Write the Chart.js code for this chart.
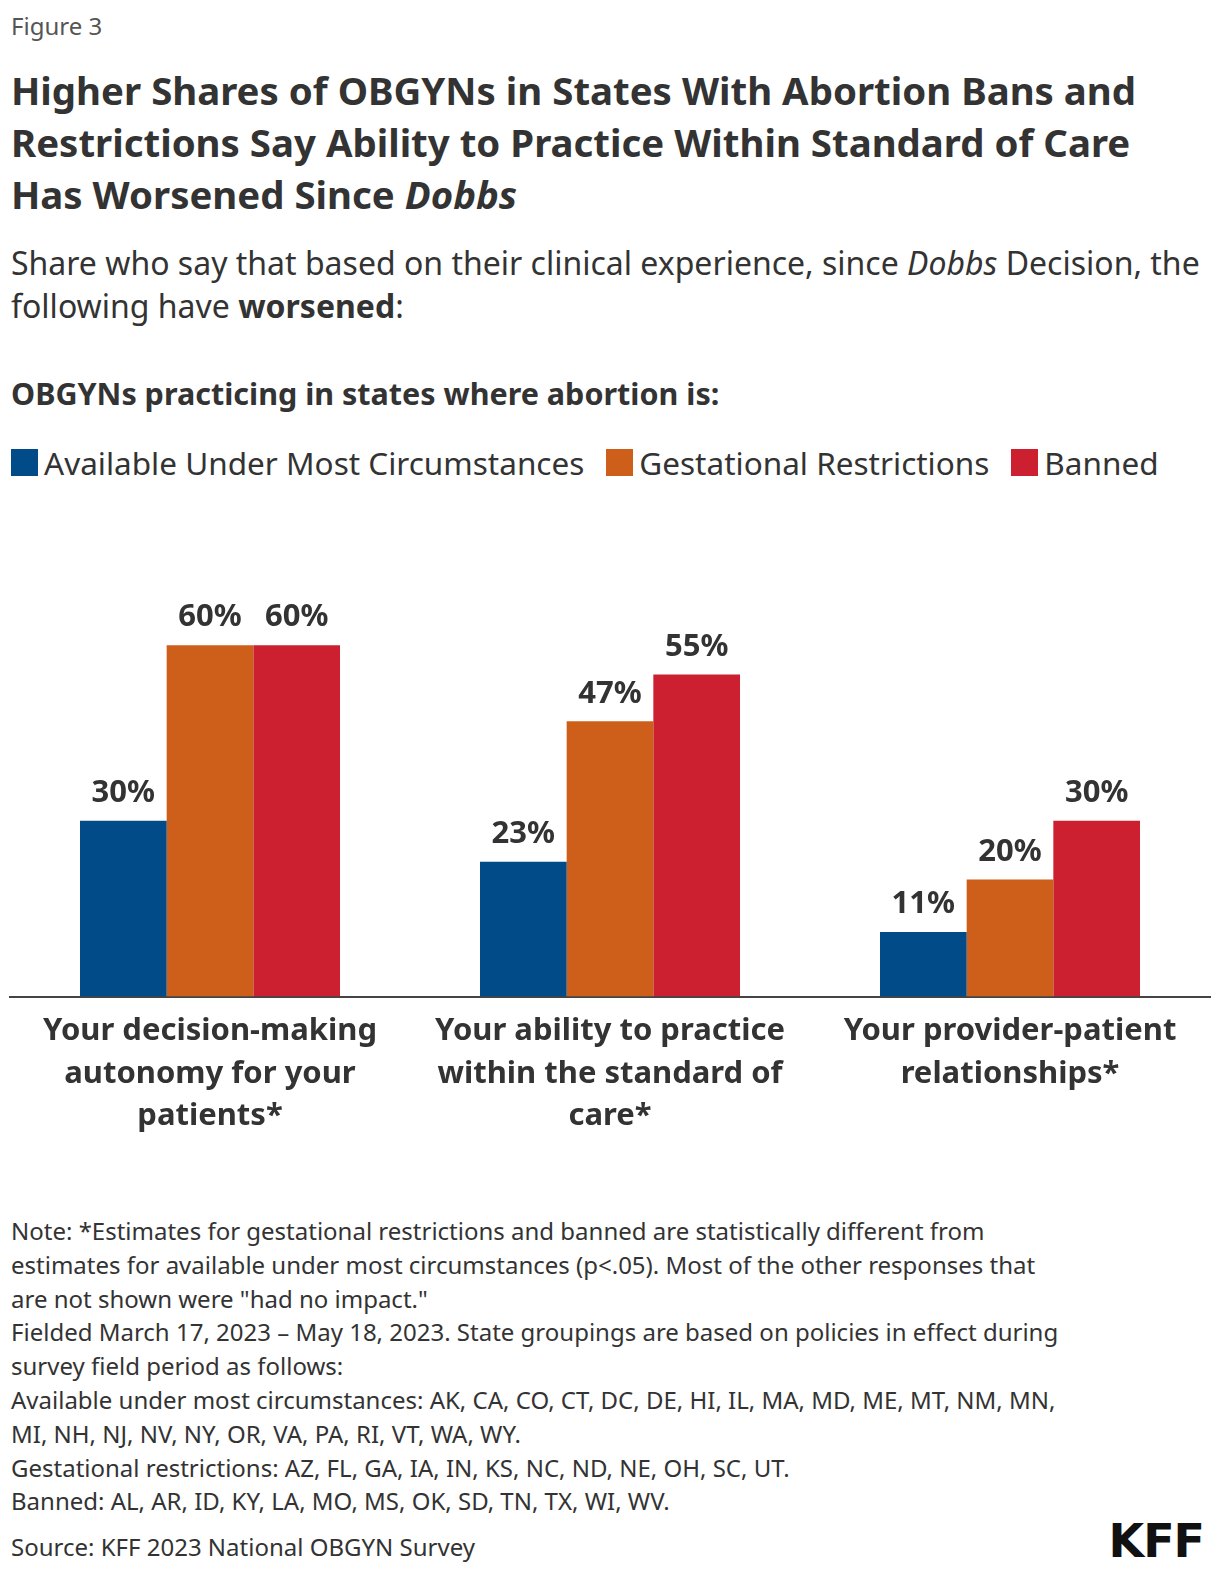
<!DOCTYPE html>
<html>
<head>
<meta charset="utf-8">
<script src="https://cdn.jsdelivr.net/npm/chart.js@4"></script>
<style>
  body { margin: 0; background: #fff; font-family: "Noto Sans", Lato, sans-serif; color: #333; }
  .page { position: relative; width: 1220px; height: 1576px; overflow: hidden; }
  .fig { position: absolute; left: 11px; top: 9px; font-size: 24px; color: #555; }
  .title { position: absolute; left: 11px; top: 64px; font-size: 38.4px; font-weight: 700; line-height: 52px; color: #333; }
  .subtitle { position: absolute; left: 11px; top: 241px; font-size: 32px; line-height: 43px; }
  .group { position: absolute; left: 11px; top: 372px; font-size: 30.5px; font-weight: 700; }
  .legend { position: absolute; left: 11px; top: 441px; font-size: 31.5px; display: flex; white-space: nowrap; }
  .legend .item { display: flex; align-items: center; margin-right: 22px; }
  .legend .sw { width: 27px; height: 27px; margin-right: 6px; }
  .chartBox { position: absolute; left: 0; top: 528px; width: 1220px; height: 615px; }
  .notes { position: absolute; left: 11px; top: 1214px; font-size: 24px; line-height: 33.8px; }
  .source { position: absolute; left: 11px; top: 1530px; font-size: 24px; }
  .logo { position: absolute; right: 16px; top: 1514px; font-size: 46px; font-weight: 900; color: #111; letter-spacing: -1px; font-family: "DejaVu Sans", sans-serif; }
</style>
</head>
<body>
<div class="page">
  <div class="fig">Figure 3</div>
  <div class="title">Higher Shares of OBGYNs in States With Abortion Bans and<br>Restrictions Say Ability to Practice Within Standard of Care<br>Has Worsened Since <i>Dobbs</i></div>
  <div class="subtitle">Share who say that based on their clinical experience, since <i>Dobbs</i> Decision, the<br>following have <b>worsened</b>:</div>
  <div class="group">OBGYNs practicing in states where abortion is:</div>
  <div class="legend" id="legend"></div>
  <div class="chartBox"><canvas id="chart"></canvas></div>
  <div class="notes">Note: *Estimates for gestational restrictions and banned are statistically different from<br>estimates for available under most circumstances (p&lt;.05). Most of the other responses that<br>are not shown were "had no impact."<br>Fielded March 17, 2023 – May 18, 2023. State groupings are based on policies in effect during<br>survey field period as follows:<br>Available under most circumstances: AK, CA, CO, CT, DC, DE, HI, IL, MA, MD, ME, MT, NM, MN,<br>MI, NH, NJ, NV, NY, OR, VA, PA, RI, VT, WA, WY.<br>Gestational restrictions: AZ, FL, GA, IA, IN, KS, NC, ND, NE, OH, SC, UT.<br>Banned: AL, AR, ID, KY, LA, MO, MS, OK, SD, TN, TX, WI, WV.</div>
  <div class="source">Source: KFF 2023 National OBGYN Survey</div>
  <div class="logo">KFF</div>
</div>
<script>
const categories = [
    ['Your decision-making', 'autonomy for your', 'patients*'],
    ['Your ability to practice', 'within the standard of', 'care*'],
    ['Your provider-patient', 'relationships*'],
];
const seriesNames = ['Available Under Most Circumstances', 'Gestational Restrictions', 'Banned'];
const availableValues = [30, 23, 11];
const gestationalValues = [60, 47, 20];
const bannedValues = [60, 55, 30];
const seriesColors = ['#004b88', '#cd5f1a', '#cc1f2f'];

const FONT = '"Noto Sans", Lato, sans-serif';

// legend in html so the swatch/text spacing matches
const legendEl = document.getElementById('legend');
seriesNames.forEach((name, i) => {
    const item = document.createElement('div');
    item.className = 'item';
    item.innerHTML = `<span class="sw" style="background:${seriesColors[i]}"></span><span>${name}</span>`;
    legendEl.appendChild(item);
});

const valueLabels = {
    id: 'valueLabels',
    afterDatasetsDraw(chart) {
        const ctx = chart.ctx;
        ctx.save();
        ctx.font = '700 31px ' + FONT;
        ctx.fillStyle = '#333';
        ctx.textAlign = 'center';
        ctx.textBaseline = 'bottom';
        chart.data.datasets.forEach((ds, i) => {
            chart.getDatasetMeta(i).data.forEach((bar, j) => {
                ctx.fillText(ds.data[j] + '%', bar.x, bar.y - 12);
            });
        });
        ctx.restore();
    }
};

const allValues = [availableValues, gestationalValues, bannedValues];

new Chart(document.getElementById('chart').getContext('2d'), {
    type: 'bar',
    data: {
        labels: categories,
        datasets: allValues.map((vals, i) => ({
            label: seriesNames[i],
            data: vals,
            backgroundColor: seriesColors[i],
            categoryPercentage: 0.65,
            barPercentage: 1.0,
        })),
    },
    options: {
        responsive: true,
        maintainAspectRatio: false,
        animation: false,
        layout: { padding: { left: 10, right: 10, top: 0, bottom: 0 } },
        plugins: {
            legend: { display: false },
            tooltip: { enabled: false },
        },
        scales: {
            x: {
                grid: { display: false },
                border: { display: true, color: '#444', width: 2 },
                ticks: {
                    color: '#333',
                    padding: 6,
                    maxRotation: 0,
                    autoSkip: false,
                    font: { family: FONT, size: 31, weight: '700', lineHeight: 1.36 },
                },
            },
            y: {
                display: false,
                min: 0,
                max: 80,
            },
        },
    },
    plugins: [valueLabels],
});
</script>
</body>
</html>
